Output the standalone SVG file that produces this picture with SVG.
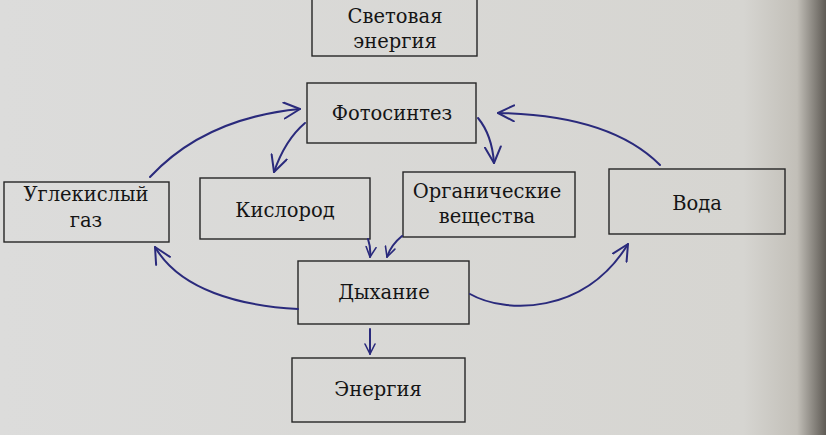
<svg xmlns="http://www.w3.org/2000/svg" width="826" height="435" viewBox="0 0 826 435">
<defs>
<linearGradient id="paper" x1="0" y1="0" x2="1" y2="0">
<stop offset="0" stop-color="#dcdcdb"/>
<stop offset="0.9" stop-color="#d6d5d1"/>
<stop offset="0.965" stop-color="#c2bfb8"/>
<stop offset="1" stop-color="#5f5b55"/>
</linearGradient>
<marker id="ah" viewBox="0 0 12 12" refX="11" refY="6" markerWidth="12" markerHeight="12" markerUnits="userSpaceOnUse" orient="auto">
<path d="M1,1 L11,6 L1,11" fill="none" stroke="#2a2a7c" stroke-width="1.6" stroke-linecap="round" stroke-linejoin="round"/>
</marker>
<marker id="ahL" viewBox="0 0 18 18" refX="17" refY="9" markerWidth="18" markerHeight="18" markerUnits="userSpaceOnUse" orient="auto">
<path d="M1,1 L17,9 L1,17" fill="none" stroke="#2a2a7c" stroke-width="2" stroke-linecap="round" stroke-linejoin="round"/>
</marker>
</defs>
<style>
.box{fill:none;stroke:#262626;stroke-width:1.4}
.t{font-family:"DejaVu Serif","Liberation Serif",serif;font-size:19.5px;fill:#151515;text-anchor:middle}
.c{fill:none;stroke:#2a2a7c;stroke-width:2;stroke-linecap:round}
</style>
<rect x="0" y="0" width="826" height="435" fill="url(#paper)"/>
<g id="light">
<rect class="box" x="312" y="-2" width="165" height="58"/>
<text class="t" x="395" y="23">Световая</text>
<text class="t" x="395" y="48">энергия</text>
</g>
<g id="photosynthesis">
<rect class="box" x="307" y="83" width="169" height="60"/>
<text class="t" x="392" y="120">Фотосинтез</text>
</g>
<g id="co2">
<rect class="box" x="4" y="182" width="165" height="60"/>
<text class="t" x="86" y="201">Углекислый</text>
<text class="t" x="86" y="227">газ</text>
</g>
<g id="oxygen">
<rect class="box" x="200" y="178" width="170" height="61"/>
<text class="t" x="285" y="217">Кислород</text>
</g>
<g id="organic">
<rect class="box" x="403" y="172" width="172" height="65"/>
<text class="t" x="487" y="198">Органические</text>
<text class="t" x="487" y="223">вещества</text>
</g>
<g id="water">
<rect class="box" x="609" y="169" width="176" height="65"/>
<text class="t" x="697" y="210">Вода</text>
</g>
<g id="respiration">
<rect class="box" x="298" y="261" width="171" height="63"/>
<text class="t" x="384" y="299">Дыхание</text>
</g>
<g id="energy">
<rect class="box" x="292" y="358" width="173" height="64"/>
<text class="t" x="378" y="396">Энергия</text>
</g>
<g id="connectors">
<path class="c" d="M150,177 Q205,118 300,109" marker-end="url(#ahL)"/>
<path class="c" d="M305,123 Q285,140 274,172" marker-end="url(#ahL)"/>
<path class="c" d="M478,118 Q492,135 494,163" marker-end="url(#ahL)"/>
<path class="c" d="M660,165 Q610,115 498,113" marker-end="url(#ahL)"/>
<path class="c" d="M368,239 Q371,248 370,257" marker-end="url(#ah)"/>
<path class="c" d="M402,236 Q391,245 387,257" marker-end="url(#ah)"/>
<path class="c" d="M298,309 C240,306 180,290 155,247" marker-end="url(#ahL)"/>
<path class="c" d="M470,294 C505,314 585,315 628,244" marker-end="url(#ahL)"/>
<path class="c" d="M370,329 L370,354" marker-end="url(#ah)"/>
</g>
</svg>
